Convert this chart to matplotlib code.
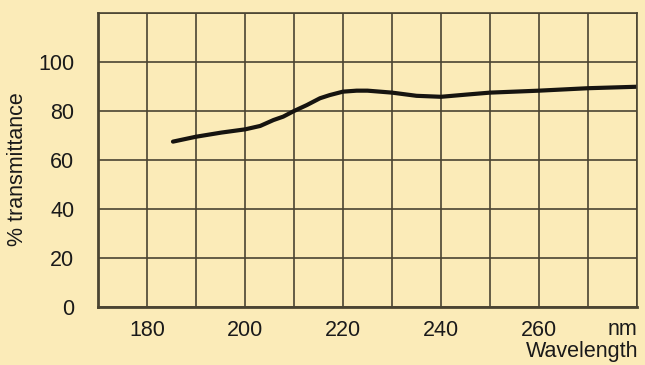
import matplotlib
matplotlib.use('Agg')
import matplotlib.pyplot as plt

# transmittance curve
wavelength = [185.3, 190, 195.2, 200, 203.1, 205.8, 207.8, 210, 212.6, 215.3, 217.3, 220,
              222.8, 225, 230, 235, 240, 245.2, 250, 255, 260, 265, 270, 275, 280]
transmit = [67.5, 69.5, 71.2, 72.5, 73.9, 76.3, 77.7, 80.0, 82.4, 85.2, 86.5, 87.9,
            88.3, 88.3, 87.5, 86.2, 85.8, 86.7, 87.5, 87.9, 88.3, 88.8, 89.3, 89.6, 89.9]

xticks = [180, 200, 220, 240, 260]
yticks = [0, 20, 40, 60, 80, 100]

bg = '#fbebb8'
grid_col = '#4a4432'
text_col = '#1a1a1a'

plt.rcParams['font.family'] = ['Liberation Sans', 'DejaVu Sans']

fig = plt.figure(figsize=(6.45, 3.65), dpi=100, facecolor=bg)
ax = fig.add_axes([98/645, 1 - 307/365, 539/645, 294/365], facecolor=bg)

ax.plot(wavelength, transmit, color='#161410', lw=3.0,
        solid_capstyle='round', solid_joinstyle='round')

ax.set_xlim(170, 280)
ax.set_ylim(0, 120)
ax.set_xticks(range(170, 281, 10), minor=True)
ax.set_yticks(range(0, 121, 20), minor=True)
ax.set_xticks(xticks)
ax.set_yticks(yticks)
ax.grid(which='both', color=grid_col, lw=1.2)
ax.tick_params(which='both', length=0, labelsize=15.5, colors=text_col)
ax.tick_params(axis='y', pad=17)
ax.tick_params(axis='x', pad=9)

for side in ['left', 'bottom']:
    ax.spines[side].set_linewidth(2.0)
    ax.spines[side].set_color(grid_col)
for side in ['top', 'right']:
    ax.spines[side].set_linewidth(1.2)
    ax.spines[side].set_color(grid_col)

ax.set_ylabel('% transmittance', fontsize=15.5, color=text_col)
ax.yaxis.set_label_coords(-0.13, 0.47)

ax.text(1.0, -0.095, 'nm', transform=ax.transAxes, ha='right', va='baseline',
        fontsize=15.5, color=text_col)
fig.text(638/645, 1 - 352/365, 'Wavelength', ha='right', va='center',
         fontsize=15.5, color=text_col)

fig.savefig('out.png', dpi=100, facecolor=bg)
